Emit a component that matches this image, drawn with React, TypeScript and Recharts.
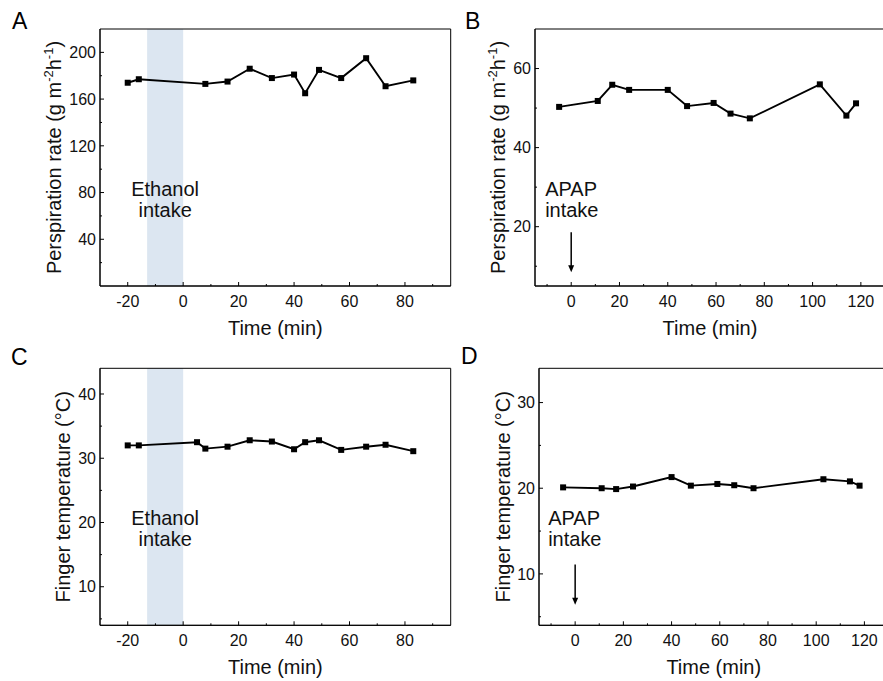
import React from 'react';
import { LineChart, Line, XAxis, YAxis, ReferenceArea, ReferenceDot, ReferenceLine } from 'recharts';

// ---- Data ----
const timeA = [-20, -16, 8, 16, 24, 32, 40, 44, 49, 57, 66, 73, 83];
const rateA = [174, 177, 173, 175, 186, 178, 181, 165, 185, 178, 195, 171, 176];

const timeB = [-5, 11, 17, 24, 40, 48, 59, 66, 74, 103, 114, 118];
const rateB = [50.3, 51.8, 55.9, 54.6, 54.6, 50.5, 51.3, 48.6, 47.4, 56.0, 48.1, 51.2];

const timeC = [-20, -16, 5, 8, 16, 24, 32, 40, 44, 49, 57, 66, 73, 83];
const tempC = [32.0, 32.0, 32.5, 31.5, 31.8, 32.8, 32.6, 31.4, 32.5, 32.8, 31.3, 31.8, 32.1, 31.1];

const timeD = [-5, 11, 17, 24, 40, 48, 59, 66, 74, 103, 114, 118];
const tempD = [20.1, 20.0, 19.9, 20.2, 21.3, 20.3, 20.5, 20.35, 20.0, 21.05, 20.8, 20.3];

// tick labels
const xMajorAC = [-20, 0, 20, 40, 60, 80];
const xMinorAC = [-10, 10, 30, 50, 70, 90];
const xMajorBD = [0, 20, 40, 60, 80, 100, 120];
const xMinorBD = [-10, 10, 30, 50, 70, 90, 110];
const yMajorA = [40, 80, 120, 160, 200];
const yMinorA = [20, 60, 100, 140, 180];
const yMajorB = [20, 40, 60];
const yMinorB = [10, 30, 50];
const yMajorC = [10, 20, 30, 40];
const yMinorC = [5, 15, 25, 35];
const yMajorD = [10, 20, 30];
const yMinorD = [5, 15, 25];

const FONT = '"Liberation Sans", Arial, Helvetica, sans-serif';
const INK = '#111';

const build = (xs: number[], ys: number[]) => xs.map((t, i) => ({ t, v: ys[i] }));

function makeTick(orient: 'left' | 'bottom', majors: number[]) {
  return (p: any) => {
    const { x, y, payload } = p;
    const v = payload.value;
    const major = majors.includes(v);
    if (orient === 'left') {
      return (
        <g>
          <line x1={x} x2={x + (major ? 4 : 2)} y1={y} y2={y} stroke="#000" strokeWidth={1} />
          {major && (
            <text x={x - 4} y={y + 5.7} textAnchor="end" fontSize={16} fontFamily={FONT} fill={INK}>
              {v}
            </text>
          )}
        </g>
      );
    }
    return (
      <g>
        <line x1={x} x2={x} y1={y} y2={y - (major ? 4 : 2)} stroke="#000" strokeWidth={1} />
        {major && (
          <text x={x} y={y + 20.5} textAnchor="middle" fontSize={16} fontFamily={FONT} fill={INK}>
            {v}
          </text>
        )}
      </g>
    );
  };
}

const SquareDot = (p: any) => {
  const { cx, cy, index } = p;
  if (cx == null || cy == null) return <g key={index} />;
  return <rect key={index} x={cx - 3} y={cy - 3} width={6} height={6} fill="#000" />;
};

const xTitle = (p: any) => {
  const vb = p.viewBox || {};
  return (
    <text x={vb.x + vb.width / 2} y={vb.y + 49} textAnchor="middle" fontSize={20} fontFamily={FONT} fill={INK}>
      Time (min)
    </text>
  );
};

const yTitle = (kind: 'rate' | 'temp', bx: number) => (p: any) => {
  const vb = p.viewBox || {};
  const x = vb.x + bx;
  const cy = vb.y + vb.height / 2;
  return (
    <text
      x={x}
      y={cy}
      transform={`rotate(-90, ${x}, ${cy})`}
      textAnchor="middle"
      fontSize={20}
      fontFamily={FONT}
      fill={INK}
    >
      {kind === 'rate' ? (
        <>
          Perspiration rate (g m
          <tspan dy={-8} fontSize={13}>-2</tspan>
          <tspan dy={8}>h</tspan>
          <tspan dy={-8} fontSize={13}>-1</tspan>
          <tspan dy={8}>)</tspan>
        </>
      ) : (
        'Finger temperature (\u00B0C)'
      )}
    </text>
  );
};

const textShape = (lines: string[], anchor: 'start' | 'middle') => (p: any) => {
  const { cx, cy } = p;
  return (
    <text x={cx} y={cy} textAnchor={anchor} fontSize={20} fontFamily={FONT} fill={INK}>
      {lines.map((l, i) => (
        <tspan key={i} x={cx} dy={i === 0 ? 0 : 21}>
          {l}
        </tspan>
      ))}
    </text>
  );
};

const arrowHead = (p: any) => {
  const { cx, cy } = p;
  return <polygon points={`${cx - 3},${cy - 7} ${cx + 3},${cy - 7} ${cx},${cy}`} fill="#000" />;
};

type PanelProps = {
  data: { t: number; v: number }[];
  width: number;
  height: number;
  margin: { top: number; right: number; bottom: number; left: number };
  yWidth: number;
  xDomain: [number, number];
  yDomain: [number, number];
  xMajor: number[];
  xMinor: number[];
  yMajor: number[];
  yMinor: number[];
  titleKind: 'rate' | 'temp';
  titleX: number;
  children?: React.ReactNode;
  band?: [number, number];
};

function Panel(props: PanelProps) {
  const { data, width, height, margin, yWidth, xDomain, yDomain, xMajor, xMinor, yMajor, yMinor, band } = props;
  const xTicks = [...xMajor, ...xMinor].sort((a, b) => a - b);
  const yTicks = [...yMajor, ...yMinor].sort((a, b) => a - b);
  return (
    <LineChart width={width} height={height} data={data} margin={margin}>
      {band && (
        <ReferenceArea x1={band[0]} x2={band[1]} fill="#dce6f1" fillOpacity={1} stroke="none" ifOverflow="visible" />
      )}
      <XAxis
        dataKey="t"
        type="number"
        domain={xDomain}
        allowDataOverflow
        ticks={xTicks}
        interval={0}
        tickSize={0}
        tickMargin={0}
        height={54}
        axisLine={{ stroke: '#000', strokeWidth: 1 }}
        tickLine={false}
        tick={makeTick('bottom', xMajor)}
        label={{ content: xTitle }}
      />
      <YAxis
        type="number"
        domain={yDomain}
        allowDataOverflow
        ticks={yTicks}
        interval={0}
        tickSize={0}
        tickMargin={0}
        width={yWidth}
        axisLine={{ stroke: '#000', strokeWidth: 1 }}
        tickLine={false}
        tick={makeTick('left', yMajor)}
        label={{ content: yTitle(props.titleKind, props.titleX) }}
      />
      <ReferenceArea
        x1={xDomain[0]}
        x2={xDomain[1]}
        y1={yDomain[0]}
        y2={yDomain[1]}
        fill="none"
        stroke="#000"
        strokeWidth={1}
        ifOverflow="visible"
      />
      {props.children}
      <Line
        type="linear"
        dataKey="v"
        stroke="#000"
        strokeWidth={1.9}
        dot={SquareDot}
        activeDot={false}
        isAnimationActive={false}
      />
    </LineChart>
  );
}

export default function App() {
  return (
    <div
      style={{
        position: 'absolute',
        left: 0,
        top: 0,
        width: 883,
        height: 681,
        overflow: 'hidden',
        background: '#fff',
      }}
    >
      <div style={{ position: 'absolute', left: 0, top: 0 }}>
        <Panel
          data={build(timeA, rateA)}
          width={460}
          height={340}
          margin={{ top: 29, right: 9.3, bottom: 0, left: 0 }}
          yWidth={100}
          xDomain={[-30, 96.5]}
          yDomain={[0, 220]}
          xMajor={xMajorAC}
          xMinor={xMinorAC}
          yMajor={yMajorA}
          yMinor={yMinorA}
          titleKind="rate"
          titleX={61}
          band={[-13, 0]}
        >
          <ReferenceDot x={-6.5} y={76.8} r={0} shape={textShape(['Ethanol', 'intake'], 'middle')} ifOverflow="visible" />
        </Panel>
      </div>
      <div style={{ position: 'absolute', left: 440, top: 0 }}>
        <Panel
          data={build(timeB, rateB)}
          width={450}
          height={340}
          margin={{ top: 29, right: 5, bottom: 0, left: 0 }}
          yWidth={95}
          xDomain={[-15, 130]}
          yDomain={[5, 70]}
          xMajor={xMajorBD}
          xMinor={xMinorBD}
          yMajor={yMajorB}
          yMinor={yMinorB}
          titleKind="rate"
          titleX={65}
        >
          <ReferenceDot x={-10.8} y={27.7} r={0} shape={textShape(['APAP', 'intake'], 'start')} ifOverflow="visible" />
          <ReferenceLine segment={[{ x: 0, y: 18.6 }, { x: 0, y: 9.5 }]} stroke="#000" strokeWidth={1.5} ifOverflow="visible" />
          <ReferenceDot x={0} y={8.5} r={0} shape={arrowHead} ifOverflow="visible" />
        </Panel>
      </div>
      <div style={{ position: 'absolute', left: 0, top: 340 }}>
        <Panel
          data={build(timeC, tempC)}
          width={460}
          height={339.3}
          margin={{ top: 28.3, right: 9.3, bottom: 0, left: 0 }}
          yWidth={100}
          xDomain={[-30, 96.5]}
          yDomain={[4, 44]}
          xMajor={xMajorAC}
          xMinor={xMinorAC}
          yMajor={yMajorC}
          yMinor={yMinorC}
          titleKind="temp"
          titleX={70}
          band={[-13, 0]}
        >
          <ReferenceDot x={-6.5} y={19.6} r={0} shape={textShape(['Ethanol', 'intake'], 'middle')} ifOverflow="visible" />
        </Panel>
      </div>
      <div style={{ position: 'absolute', left: 440, top: 340 }}>
        <Panel
          data={build(timeD, tempD)}
          width={450}
          height={339.3}
          margin={{ top: 28.3, right: 1.5, bottom: 0, left: 0 }}
          yWidth={99}
          xDomain={[-15, 130]}
          yDomain={[4, 34]}
          xMajor={xMajorBD}
          xMinor={xMinorBD}
          yMajor={yMajorD}
          yMinor={yMinorD}
          titleKind="temp"
          titleX={70}
        >
          <ReferenceDot x={-11.2} y={15.7} r={0} shape={textShape(['APAP', 'intake'], 'start')} ifOverflow="visible" />
          <ReferenceLine segment={[{ x: 0, y: 11.1 }, { x: 0, y: 7.2 }]} stroke="#000" strokeWidth={1.5} ifOverflow="visible" />
          <ReferenceDot x={0} y={6.4} r={0} shape={arrowHead} ifOverflow="visible" />
        </Panel>
      </div>
      <svg
        width={883}
        height={681}
        style={{ position: 'absolute', left: 0, top: 0, pointerEvents: 'none' }}
      >
        <text x={12} y={29.3} fontSize={23} fontFamily={FONT} fill="#000">A</text>
        <text x={465} y={29.3} fontSize={23} fontFamily={FONT} fill="#000">B</text>
        <text x={11} y={365} fontSize={23} fontFamily={FONT} fill="#000">C</text>
        <text x={461} y={363.5} fontSize={23} fontFamily={FONT} fill="#000">D</text>
      </svg>
    </div>
  );
}
